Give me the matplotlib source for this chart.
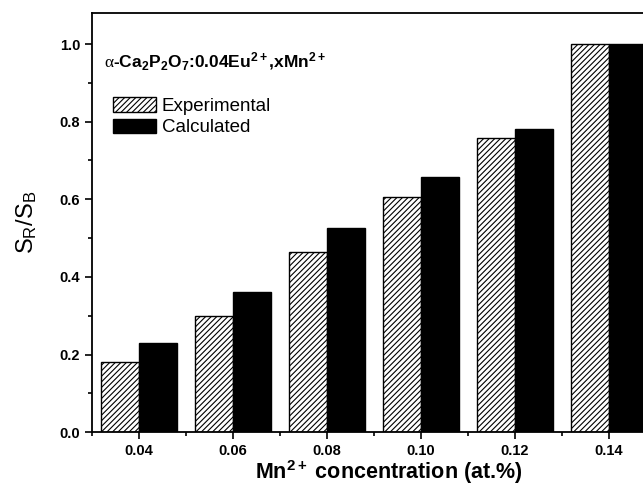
import matplotlib
matplotlib.use("Agg")
import matplotlib.pyplot as plt
import numpy as np
from matplotlib.ticker import MultipleLocator, FixedLocator, FormatStrFormatter

plt.rcParams['font.family'] = ['Liberation Sans', 'DejaVu Sans']
plt.rcParams['mathtext.fontset'] = 'custom'
plt.rcParams['mathtext.it'] = 'Liberation Sans'
plt.rcParams['mathtext.rm'] = 'Liberation Sans'
plt.rcParams['mathtext.bf'] = 'Liberation Sans:bold'
plt.rcParams['mathtext.sf'] = 'Liberation Serif'
plt.rcParams['hatch.linewidth'] = 0.8

# Mn2+ concentrations and S_R/S_B ratios
mn_conc = [0.04, 0.06, 0.08, 0.10, 0.12, 0.14]
experimental = [0.182, 0.300, 0.465, 0.605, 0.757, 1.000]
calculated = [0.230, 0.362, 0.525, 0.658, 0.780, 1.000]
tick_labels = ['0.04', '0.06', '0.08', '0.10', '0.12', '0.14']

fig = plt.figure(figsize=(6.43, 4.9), dpi=100)
# the plot frame runs past the right edge of the figure
ax = fig.add_axes([0.143, 0.118, 0.924, 0.8555])

x = np.array(mn_conc)
w = 0.008
ax.bar(x - w / 2, experimental, width=w, color='white', edgecolor='black',
       hatch='//////', linewidth=1.0, label='Experimental')
ax.bar(x + w / 2, calculated, width=w, color='black', edgecolor='black',
       linewidth=1.0, label='Calculated')

ax.set_xlim(0.03, 0.1564)
ax.set_ylim(0, 1.08)
ax.set_xticks(mn_conc)
ax.set_xticklabels(tick_labels)
ax.xaxis.set_minor_locator(FixedLocator([0.03, 0.05, 0.07, 0.09, 0.11, 0.13, 0.15]))
ax.yaxis.set_major_locator(MultipleLocator(0.2))
ax.yaxis.set_minor_locator(MultipleLocator(0.1))
ax.yaxis.set_major_formatter(FormatStrFormatter('%.1f'))

ax.tick_params(which='major', direction='out', length=5, width=1.2,
               labelsize=10.5, top=False, right=False)
ax.tick_params(which='minor', direction='out', length=3, width=1.2,
               top=False, right=False)
for lbl in ax.get_xticklabels() + ax.get_yticklabels():
    lbl.set_fontweight('bold')

for s in ['left', 'bottom', 'top']:
    ax.spines[s].set_linewidth(1.3)
ax.spines['right'].set_visible(False)

ax.set_xlabel(r'Mn$^{\mathbf{2+}}$ concentration (at.%)', fontsize=15.5,
              fontweight='bold', labelpad=0)
ax.set_ylabel(r'S$_{R}$/S$_{B}$', fontsize=17, labelpad=15)

ax.text(0.0325, 0.955,
        r'$\mathsf{\alpha}$-Ca$_{\mathbf{2}}$P$_{\mathbf{2}}$O$_{\mathbf{7}}$'
        r':0.04Eu$^{\mathbf{2+}}$,xMn$^{\mathbf{2+}}$',
        fontsize=12.5, fontweight='bold', ha='left', va='center')

ax.legend(loc='upper left', bbox_to_anchor=(0.0227, 0.817), frameon=False,
          fontsize=13.5, handlelength=2.3, handleheight=0.8, handletextpad=0.3,
          labelspacing=0.2, borderaxespad=0)

fig.savefig('out.png', dpi=100)
